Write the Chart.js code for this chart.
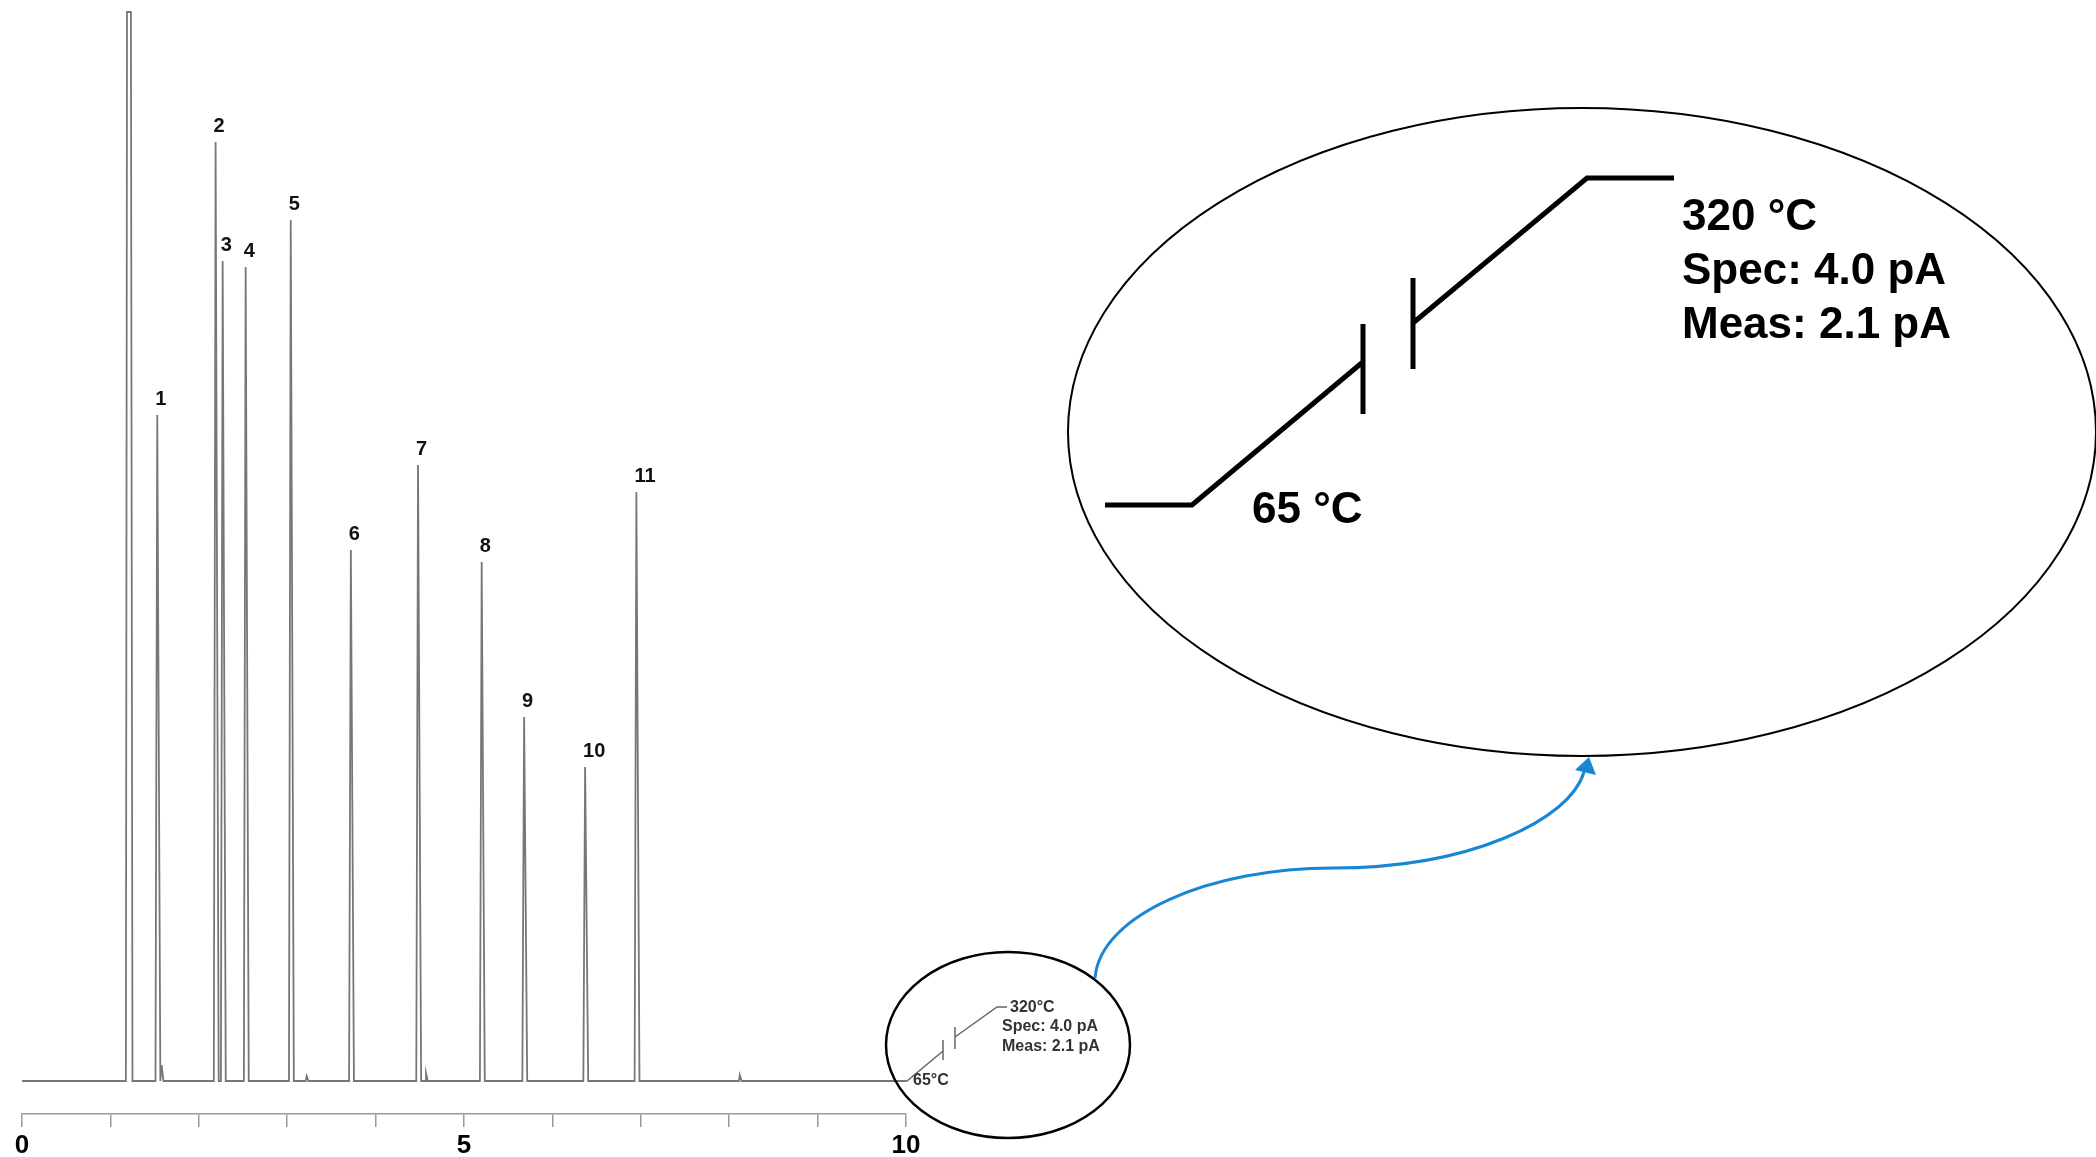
<!DOCTYPE html>
<html>
<head>
<meta charset="utf-8">
<script src="https://cdn.jsdelivr.net/npm/chart.js@4.4.0/dist/chart.umd.min.js"></script>
<style>
  html, body { margin: 0; padding: 0; background: #fff; }
  #wrap { width: 2096px; height: 1157px; position: relative; }
</style>
</head>
<body>
<div id="wrap"><canvas id="myChart"></canvas></div>
<script>
var picoNombres = ['1', '2', '3', '4', '5', '6', '7', '8', '9', '10', '11'];
var picoTiempos = [1.53, 2.19, 2.27, 2.53, 3.04, 3.72, 4.48, 5.20, 5.68, 6.37, 6.95];
var picoAlturas = [666, 939, 820, 814, 861, 531, 616, 519, 364, 314, 589];
var solventeTiempo = 1.21;
var solventeAltura = 1069;
var menoresTiempos = [1.58, 3.22, 4.57, 8.12];
var menoresAlturas = [16, 5, 8, 6];
var ejeTicks = [0, 5, 10];
var tiempoFinal = 10;

var fuente = "'Liberation Sans', Arial, sans-serif";

function cargarGrafico() {
    // Construir la traza a partir de los picos
    var eventos = [];
    picoTiempos.forEach((t, i) => eventos.push({ t: t, h: picoAlturas[i], izq: 0.02, der: 0.035 }));
    menoresTiempos.forEach((t, i) => eventos.push({ t: t, h: menoresAlturas[i], izq: 0.01, der: 0.02 }));
    eventos.push({ t: solventeTiempo, h: solventeAltura, solvente: true });
    eventos.sort((a, b) => a.t - b.t);

    var traza = [{ x: 0, y: 0 }];
    eventos.forEach(e => {
        if (e.solvente) {
            traza.push({ x: e.t - 0.035, y: 0 }, { x: e.t - 0.022, y: e.h },
                       { x: e.t + 0.022, y: e.h }, { x: e.t + 0.04, y: 0 });
        } else {
            traza.push({ x: e.t - e.izq, y: 0 }, { x: e.t, y: e.h }, { x: e.t + e.der, y: 0 });
        }
    });
    traza.push({ x: tiempoFinal, y: 0 });

    // Etiquetas de los picos y el recuadro ampliado del programa de temperatura
    var anotaciones = {
        id: 'anotaciones',
        afterDatasetsDraw(chart) {
            var ctx = chart.ctx;
            var xs = chart.scales.x, ys = chart.scales.y;
            ctx.save();
            ctx.fillStyle = '#111';
            ctx.font = 'bold 20px ' + fuente;
            ctx.textAlign = 'left';
            ctx.textBaseline = 'middle';
            picoNombres.forEach((n, i) => {
                ctx.fillText(n, xs.getPixelForValue(picoTiempos[i]) - 2, ys.getPixelForValue(picoAlturas[i]) - 16);
            });
            ctx.restore();
        },
        afterDraw(chart) {
            var ctx = chart.ctx;
            ctx.save();
            ctx.lineCap = 'butt';
            ctx.lineJoin = 'miter';

            // perfil pequeño (gris)
            var x0 = chart.scales.x.getPixelForValue(tiempoFinal);
            var y0 = chart.scales.y.getPixelForValue(0);
            ctx.strokeStyle = '#666';
            ctx.lineWidth = 1.5;
            ctx.beginPath();
            ctx.moveTo(x0, y0); ctx.lineTo(907, 1081); ctx.lineTo(943, 1051);
            ctx.moveTo(943, 1040); ctx.lineTo(943, 1060);
            ctx.moveTo(955, 1027); ctx.lineTo(955, 1049);
            ctx.moveTo(955, 1037); ctx.lineTo(997, 1007); ctx.lineTo(1007, 1007);
            ctx.stroke();
            ctx.fillStyle = '#333';
            ctx.font = 'bold 16px ' + fuente;
            ctx.textAlign = 'left';
            ctx.textBaseline = 'middle';
            ctx.fillText('320°C', 1010, 1008);
            ctx.fillText('Spec: 4.0 pA', 1002, 1027);
            ctx.fillText('Meas: 2.1 pA', 1002, 1047);
            ctx.fillText('65°C', 913, 1081);

            // elipse pequeña
            ctx.strokeStyle = '#000';
            ctx.lineWidth = 2.5;
            ctx.beginPath();
            ctx.ellipse(1008, 1045, 122, 93, 0, 0, Math.PI * 2);
            ctx.stroke();

            // elipse grande
            ctx.lineWidth = 2;
            ctx.beginPath();
            ctx.ellipse(1582, 432, 514, 324, 0, 0, Math.PI * 2);
            ctx.stroke();

            // perfil ampliado
            ctx.lineWidth = 5;
            ctx.beginPath();
            ctx.moveTo(1105, 505); ctx.lineTo(1192, 505); ctx.lineTo(1364, 361);
            ctx.moveTo(1363, 324); ctx.lineTo(1363, 414);
            ctx.moveTo(1413, 278); ctx.lineTo(1413, 369);
            ctx.moveTo(1413, 323); ctx.lineTo(1587, 178); ctx.lineTo(1674, 178);
            ctx.stroke();
            ctx.fillStyle = '#000';
            ctx.font = 'bold 44px ' + fuente;
            ctx.fillText('320 °C', 1682, 218);
            ctx.fillText('Spec: 4.0 pA', 1682, 272);
            ctx.fillText('Meas: 2.1 pA', 1682, 326);
            ctx.fillText('65 °C', 1252, 511);

            // flecha azul
            ctx.strokeStyle = '#1787d4';
            ctx.fillStyle = '#1787d4';
            ctx.lineWidth = 3;
            ctx.beginPath();
            ctx.moveTo(1095, 978);
            ctx.bezierCurveTo(1100, 915, 1210, 868, 1333, 868);
            ctx.bezierCurveTo(1470, 868, 1570, 820, 1584, 772);
            ctx.stroke();
            ctx.beginPath();
            ctx.moveTo(1589, 757);
            ctx.lineTo(1596, 775);
            ctx.lineTo(1575, 770);
            ctx.closePath();
            ctx.fill();
            ctx.restore();
        }
    };

    var ctx = document.getElementById('myChart').getContext('2d');
    var myChart = new Chart(ctx, {
        type: 'line',
        data: {
            datasets: [{
                label: 'FID',
                data: traza,
                borderColor: '#777777',
                borderWidth: 1.8,
                pointRadius: 0,
                tension: 0,
                fill: false
            }]
        },
        options: {
            responsive: false,
            animation: false,
            events: [],
            layout: { padding: { left: 22, right: 1190, top: 0, bottom: 0 } },
            plugins: { legend: { display: false }, tooltip: { enabled: false } },
            scales: {
                x: {
                    type: 'linear',
                    min: 0,
                    max: 10,
                    afterFit: function (scale) { scale.height = 43; },
                    border: { display: true, color: '#9a9a9a', width: 1.5 },
                    grid: { drawOnChartArea: false, drawTicks: true, tickLength: 13, color: '#9a9a9a', lineWidth: 1.5 },
                    ticks: {
                        stepSize: 1,
                        autoSkip: false,
                        maxRotation: 0,
                        padding: 6,
                        color: '#000',
                        font: { family: fuente, size: 26, weight: 'bold', lineHeight: 1 },
                        callback: v => ejeTicks.includes(v) ? String(v) : ''
                    }
                },
                y: {
                    display: false,
                    min: -33,
                    max: 1081
                }
            }
        },
        plugins: [anotaciones]
    });
}

var lienzo = document.getElementById('myChart');
lienzo.width = 2096;
lienzo.height = 1157;
cargarGrafico();
</script>
</body>
</html>
